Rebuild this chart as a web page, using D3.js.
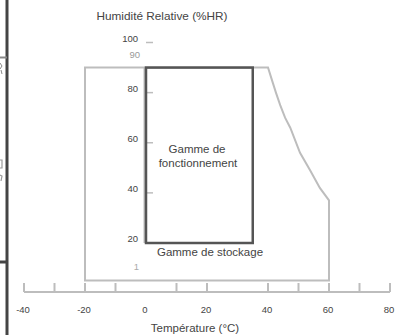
<!DOCTYPE html>
<html><head><meta charset="utf-8">
<script src="https://cdn.jsdelivr.net/npm/d3@7"></script>
<style>body{margin:0;background:#fff;overflow:hidden}svg{display:block}text{font-family:"Liberation Sans",Arial,sans-serif}</style>
</head><body>
<script>
// Data
const xTicks = [-40,-30,-20,-10,10,20,40,50,60,70,80];
const xLabels = [-40,-20,0,20,40,60,80];
const yTicks = [100,80,60,40];
const yLabels = [100,80,60,40,20];
const storageTemp = [-20,40,41.3,42.6,44,45.6,47.3,50.5,53.8,57,60,60,-20];
const storageHum  = [90,90,85,80,75,70,66,56,49,42,37,5,5];
const operatingTemp = [0,35];
const operatingHum = [20,90];

const W=399,H=335;
const svg=d3.select("body").append("svg").attr("width",W).attr("height",H);
const x=d3.scaleLinear().domain([-40,80]).range([24,390]);
const y=d3.scaleLinear().domain([20,100]).range([243,42.5]);

// left page border fragments
svg.append("line").attr("x1",7).attr("x2",7).attr("y1",0).attr("y2",H).attr("stroke","#444").attr("stroke-width",3);
svg.append("line").attr("x1",0).attr("x2",7).attr("y1",57.5).attr("y2",57.5).attr("stroke","#888").attr("stroke-width",2);
svg.append("line").attr("x1",0).attr("x2",7).attr("y1",262).attr("y2",262).attr("stroke","#444").attr("stroke-width",3);
svg.append("path").attr("d","M0,63 L2,66 L0,69 M1,70 L2,74").attr("stroke","#888").attr("fill","none").attr("stroke-width",1);
svg.append("path").attr("d","M0,160 L2,160 L2,168 L0,168 M0,175 L2,176 L1,181").attr("stroke","#999").attr("fill","none").attr("stroke-width",1.2);

const light="#bdbdbd", dark="#555";

// x axis
svg.append("line").attr("x1",x(-40)).attr("x2",x(80)).attr("y1",292).attr("y2",292).attr("stroke",light).attr("stroke-width",2);
svg.selectAll(".xt").data(xTicks).enter().append("line")
  .attr("x1",d=>x(d)).attr("x2",d=>x(d)).attr("y1",283).attr("y2",292).attr("stroke",light).attr("stroke-width",2);
svg.selectAll(".xl").data(xLabels).enter().append("text")
  .attr("x",d=>x(d)-1).attr("y",313).attr("text-anchor","middle").attr("font-size",9.5).attr("fill","#444").text(d=>d);
svg.append("text").attr("x",195).attr("y",332).attr("text-anchor","middle").attr("font-size",11.5).attr("fill","#444").text("Température (°C)");

// y axis
svg.append("line").attr("x1",x(0)-1.5).attr("x2",x(0)-1.5).attr("y1",y(90)).attr("y2",y(20)).attr("stroke",light).attr("stroke-width",2);
svg.selectAll(".yt").data(yTicks).enter().append("line")
  .attr("x1",x(0)).attr("x2",x(0)+7).attr("y1",d=>y(d)).attr("y2",d=>y(d)).attr("stroke",light).attr("stroke-width",1.5);
svg.selectAll(".yl").data(yLabels).enter().append("text")
  .attr("x",138).attr("y",d=>y(d)-1).attr("text-anchor","end").attr("font-size",9.5).attr("fill","#444").text(d=>d);
svg.append("text").attr("x",140).attr("y",58).attr("text-anchor","end").attr("font-size",9.5).attr("fill","#999").text("90");
svg.append("text").attr("x",139).attr("y",270).attr("text-anchor","end").attr("font-size",9.5).attr("fill","#aaa").text("1");
svg.append("text").attr("x",162).attr("y",20).attr("text-anchor","middle").attr("font-size",11.8).attr("fill","#444").text("Humidité Relative (%HR)");

// storage polygon
const pts=storageTemp.map((t,i)=>[t,storageHum[i]]);
svg.append("path").attr("d",d3.line().x(d=>x(d[0])).y(d=>y(d[1])).curve(d3.curveLinearClosed)(pts))
  .attr("fill","none").attr("stroke",light).attr("stroke-width",2);

// operating rectangle
svg.append("rect").attr("x",x(operatingTemp[0])).attr("y",y(operatingHum[1]))
  .attr("width",x(operatingTemp[1])-x(operatingTemp[0])).attr("height",y(operatingHum[0])-y(operatingHum[1]))
  .attr("fill","none").attr("stroke",dark).attr("stroke-width",2.5);

svg.append("text").attr("x",197).attr("y",153).attr("text-anchor","middle").attr("font-size",11.5).attr("fill","#444").text("Gamme de");
svg.append("text").attr("x",198).attr("y",167).attr("text-anchor","middle").attr("font-size",11.5).attr("fill","#444").text("fonctionnement");
svg.append("text").attr("x",210).attr("y",256).attr("text-anchor","middle").attr("font-size",11.5).attr("fill","#444").text("Gamme de stockage");
</script>
</body></html>
